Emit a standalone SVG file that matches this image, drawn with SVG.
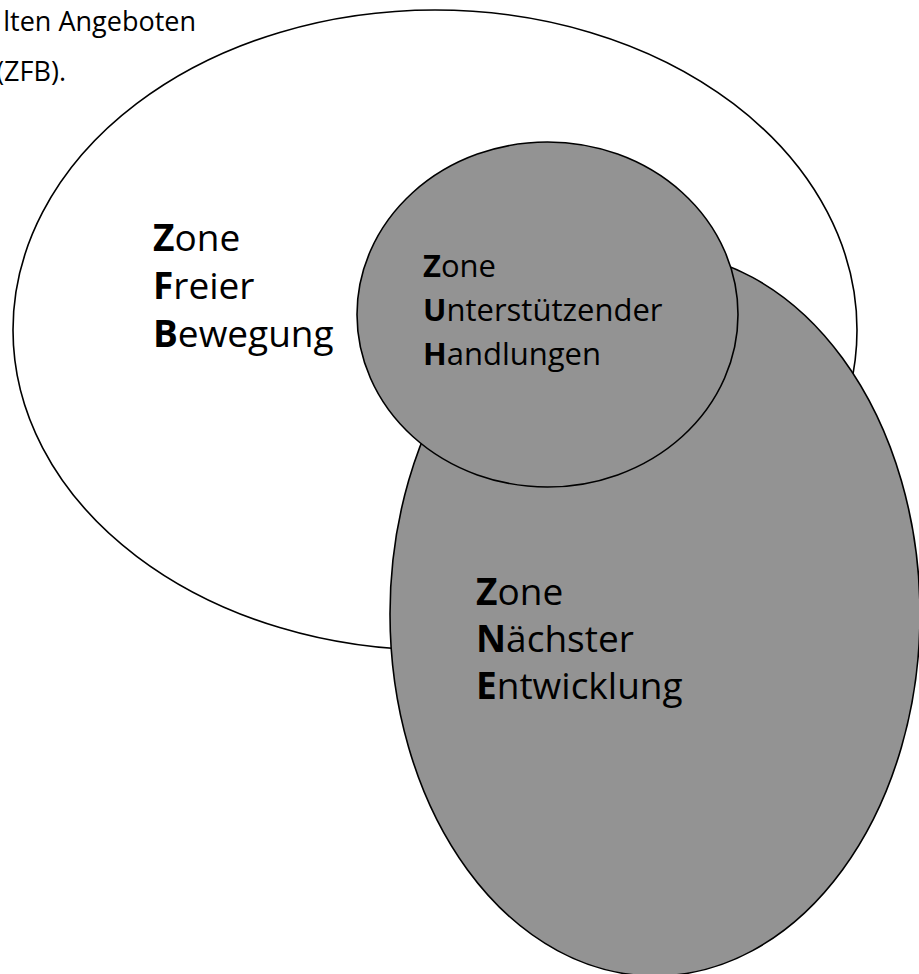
<svg xmlns="http://www.w3.org/2000/svg" width="919" height="974" viewBox="0 0 919 974">
<style>
.shape{stroke:#000;stroke-width:1.6}
.white{fill:#fff}
.gray{fill:#939393}
text{font-family:"Open Sans","Noto Sans",sans-serif;fill:#000}
.big{font-size:37px}
.mid{font-size:31px}
.note{font-size:27px}
.b{font-weight:bold}
</style>
<rect width="919" height="974" fill="#fff"/>
<g id="intro-text">
<text class="note" x="196" y="31" text-anchor="end">lten Angeboten</text>
<text class="note" x="66" y="81" text-anchor="end">(ZFB).</text>
</g>
<g id="zfb">
<ellipse class="shape white" cx="435" cy="330" rx="422" ry="320"/>
<text class="big" x="153" y="251"><tspan class="b">Z</tspan>one</text>
<text class="big" x="153" y="299"><tspan class="b">F</tspan>reier</text>
<text class="big" x="153" y="347"><tspan class="b">B</tspan>ewegung</text>
</g>
<g id="zne">
<ellipse class="shape gray" cx="655" cy="614" rx="265" ry="362"/>
<text class="big" x="476" y="605"><tspan class="b">Z</tspan>one</text>
<text class="big" x="476" y="652"><tspan class="b">N</tspan>ächster</text>
<text class="big" x="476" y="699"><tspan class="b">E</tspan>ntwicklung</text>
</g>
<g id="zuh">
<ellipse class="shape gray" cx="547.5" cy="314.5" rx="190.5" ry="172.5"/>
<text class="mid" x="423" y="277"><tspan class="b">Z</tspan>one</text>
<text class="mid" x="423" y="321"><tspan class="b">U</tspan>nterstützender</text>
<text class="mid" x="423" y="365"><tspan class="b">H</tspan>andlungen</text>
</g>
<g id="connectors"/>
</svg>
